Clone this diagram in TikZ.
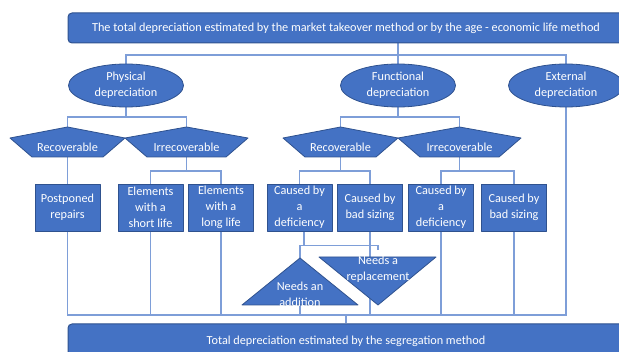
\documentclass[tikz,border=0pt]{standalone}
\usepackage{fontspec}
\setmainfont{Carlito}
\usetikzlibrary{shapes.geometric,backgrounds}
\definecolor{boxblue}{RGB}{68,114,196}
\definecolor{boxedge}{RGB}{47,82,143}
\definecolor{linkblue}{RGB}{126,158,216}
\begin{document}
\begin{tikzpicture}[x=1pt,y=-1pt,line join=round,font=\fontsize{12.25}{16}\selectfont,
	blk/.style={fill=boxblue,draw=boxedge,line width=0.8pt,text=white,align=center,inner sep=0pt},
	banner/.style={blk,rounded corners=4pt,minimum width=556pt,line width=1pt},
	oval/.style={blk,ellipse,minimum width=115pt,minimum height=43pt},
	cell/.style={blk,minimum width=65pt,minimum height=47pt},
	txt/.style={text=white,align=center,inner sep=0pt},
	link/.style={draw=linkblue,line width=1.1pt}]
	\useasboundingbox (0,0) rectangle (619,352);
	% top and bottom
	\node[banner,minimum height=30pt] (top) at (346,28) {The total depreciation estimated by the market takeover method or by the age - economic life method};
	\node[banner,minimum height=34pt] (bot) at (346,341) {Total depreciation estimated by the segregation method};
	% kinds of depreciation
	\node[oval] (phy) at (126,85.5) {Physical\\depreciation};
	\node[oval] (fun) at (398,85.5) {Functional\\depreciation};
	\node[oval] (ext) at (566,85.5) {External\\depreciation};
	% recoverable / irrecoverable
	\foreach \nm/\cx/\hw/\lbl in {prec/67.5/57.5/Recoverable,pirr/186.5/61.5/Irrecoverable,frec/340.5/57.5/Recoverable,firr/459.5/61.5/Irrecoverable}{
		\draw[blk] (\cx-\hw,138) -- (\cx,127) -- (\cx+\hw,138) -- (\cx+\hw-22,157) -- (\cx-\hw+22,157) -- cycle;
		\node[txt] (\nm) at (\cx,147) {\lbl};
		\coordinate (\nm-top) at (\cx,127);
		\coordinate (\nm-bot) at (\cx,157);
	}
	% items
	\node[cell] (post) at (67.5,207.5) {Postponed\\repairs};
	\node[cell] (shrt) at (150.5,207.5) {Elements\\with a\\short life};
	\node[cell] (lng) at (221,207.5) {Elements\\with a\\long life};
	\node[cell] (cbd1) at (299.5,207.5) {Caused by\\a\\deficiency};
	\node[cell] (cbs1) at (370,207.5) {Caused by\\bad sizing};
	\node[cell] (cbd2) at (441,207.5) {Caused by\\a\\deficiency};
	\node[cell] (cbs2) at (514,207.5) {Caused by\\bad sizing};
	% needs
	\draw[blk] (242,305) -- (300,258) -- (358,305) -- cycle;
	\node[txt] (add) at (300,294) {Needs an\\addition};
	\coordinate (add-top) at (300,258);
	\coordinate (add-bot) at (300,305);
	\draw[blk] (319,257) -- (436,257) -- (378,305) -- cycle;
	\node[txt] (rep) at (378,269.5) {Needs a\\replacement};
	\coordinate (rep-in) at (378,250);
	% connectors
	\begin{scope}[on background layer]
		\coordinate (b1) at (0,55);
		\coordinate (b2) at (0,117);
		\coordinate (b3) at (0,171);
		\coordinate (b4) at (0,315);
		\draw[link] (top.south -| fun) -- (fun.north);
		\draw[link] (phy.north) |- (b1 -| ext) -- (ext.north);
		\draw[link] (phy.south) -- (phy.south |- b2);
		\draw[link] (prec-top) |- (b2 -| pirr-top) -- (pirr-top);
		\draw[link] (fun.south) -- (fun.south |- b2);
		\draw[link] (frec-top) |- (b2 -| firr-top) -- (firr-top);
		\draw[link] (prec-bot) -- (post.north);
		\draw[link] (pirr-bot) -- (pirr-bot |- b3);
		\draw[link] (shrt.north) |- (b3 -| lng) -- (lng.north);
		\draw[link] (frec-bot) -- (frec-bot |- b3);
		\draw[link] (cbd1.north) |- (b3 -| cbs1) -- (cbs1.north);
		\draw[link] (firr-bot) -- (firr-bot |- b3);
		\draw[link] (cbd2.north) |- (b3 -| cbs2) -- (cbs2.north);
		\draw[link] ([xshift=4.5pt]cbd1.south) -- ++(0,14) coordinate (fork);
		\draw[link] (add-top) |- (fork) -| (rep-in);
		\draw[link] (post.south) |- (b4 -| ext) -- (ext.south);
		\foreach \nm in {shrt,lng,cbs1,cbd2,cbs2}
		\draw[link] (\nm.south) -- (\nm.south |- b4);
		\draw[link] (add-bot) -- (add-bot |- b4);
		\draw[link] (bot.north) -- (bot.north |- b4);
	\end{scope}
\end{tikzpicture}
\end{document}
